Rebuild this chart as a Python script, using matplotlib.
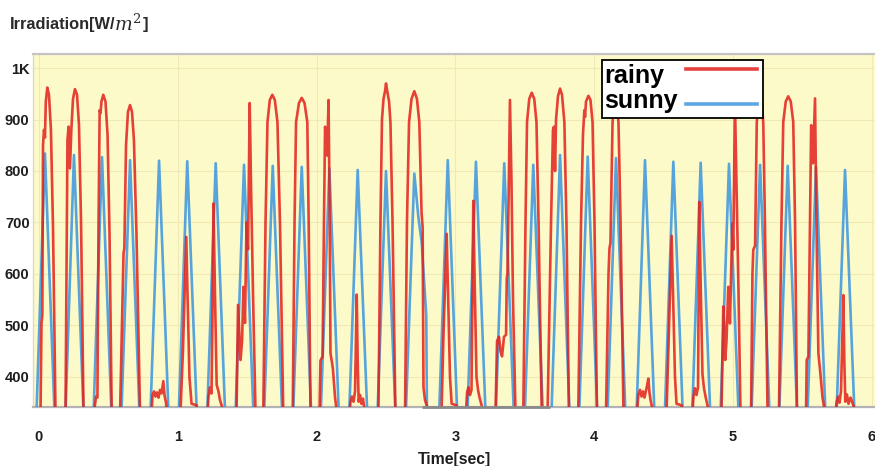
import matplotlib
matplotlib.use("Agg")
import matplotlib.pyplot as plt
from matplotlib import font_manager
from matplotlib.lines import Line2D
from matplotlib.patches import Rectangle
from matplotlib.transforms import blended_transform_factory, offset_copy

# ---------------------------------------------------------------- data
x_ticks = [0, 1, 2, 3, 4, 5, 6]
x_tick_labels = ["0", "1", "2", "3", "4", "5", "6"]
y_ticks = [400, 500, 600, 700, 800, 900, 1000]
y_tick_labels = ["400", "500", "600", "700", "800", "900", "1K"]

series_names = ["rainy", "sunny"]

# sunny profile: time [s] / irradiance [W/m^2] vertices
sunny_t = [
    -0.018, 0.043, 0.112,
    0.191, 0.252, 0.321,
    0.393, 0.454, 0.522,
    0.594, 0.656, 0.724,
    0.803, 0.865, 0.933,
    1.007, 1.068, 1.137,
    1.212, 1.273, 1.341,
    1.416, 1.477, 1.545,
    1.622, 1.684, 1.752,
    1.831, 1.893, 1.961,
    2.030, 2.092, 2.160,
    2.235, 2.296, 2.365,
    2.439, 2.500, 2.568,
    2.643, 2.704, 2.733, 2.757, 2.790, 2.795,
    2.883, 2.945, 3.013,
    3.087, 3.148, 3.217,
    3.291, 3.352, 3.421,
    3.500, 3.561, 3.630,
    3.692, 3.754, 3.822,
    3.892, 3.953, 4.022,
    4.096, 4.157, 4.225,
    4.305, 4.366, 4.434,
    4.509, 4.570, 4.638,
    4.706, 4.767, 4.836,
    4.910, 4.971, 5.040,
    5.133, 5.195, 5.263,
    5.333, 5.394, 5.462,
    5.537, 5.598, 5.666,
    5.746, 5.807, 5.875,
]
sunny_w = [
    330, 834, 330,
    330, 831, 330,
    330, 827, 330,
    330, 821, 330,
    330, 820, 330,
    330, 819, 330,
    330, 815, 330,
    330, 812, 330,
    330, 810, 330,
    330, 808, 330,
    330, 805, 330,
    330, 802, 330,
    330, 800, 330,
    330, 795, 711, 661, 520, 330,
    330, 821, 330,
    330, 818, 330,
    330, 815, 330,
    330, 812, 330,
    330, 831, 330,
    330, 828, 330,
    330, 825, 330,
    330, 821, 330,
    330, 818, 330,
    330, 816, 330,
    330, 814, 330,
    330, 812, 330,
    330, 810, 330,
    330, 807, 330,
    330, 802, 330,
]

# rainy profile: time [s] / irradiance [W/m^2] vertices
rainy_t = [
    0.011, 0.018, 0.024, 0.029, 0.036, 0.043, 0.049, 0.060, 0.072, 0.086, 0.101, 0.119,
    0.191, 0.205, 0.213, 0.223, 0.233, 0.245, 0.259, 0.274, 0.288, 0.303, 0.321,
    0.396, 0.403, 0.411, 0.421, 0.429, 0.437, 0.443, 0.450, 0.463, 0.479, 0.494, 0.508, 0.524,
    0.584, 0.609, 0.615, 0.627, 0.641, 0.656, 0.670, 0.684, 0.702, 0.728,
    0.811, 0.818, 0.829, 0.839, 0.850, 0.861, 0.872, 0.883, 0.896, 0.904, 0.915, 0.922,
    1.019, 1.037, 1.061, 1.070, 1.084, 1.099, 1.135, 1.142,
    1.214, 1.221, 1.232, 1.243, 1.249, 1.257, 1.268, 1.280, 1.293, 1.304, 1.316, 1.326,
    1.423, 1.434, 1.441, 1.452, 1.463, 1.473, 1.484, 1.495, 1.506, 1.518, 1.527, 1.542, 1.560,
    1.616, 1.632, 1.646, 1.663, 1.681, 1.699, 1.718, 1.736, 1.760,
    1.828, 1.841, 1.852, 1.873, 1.893, 1.913, 1.933, 1.943, 1.956,
    2.021, 2.028, 2.043, 2.053, 2.061, 2.071, 2.076, 2.086, 2.094, 2.100, 2.111, 2.118, 2.133, 2.147,
    2.237, 2.244, 2.255, 2.266, 2.277, 2.289, 2.296, 2.303, 2.313, 2.323, 2.334, 2.349,
    2.445, 2.460, 2.471, 2.482, 2.493, 2.500, 2.509, 2.522, 2.532, 2.547, 2.568,
    2.637, 2.651, 2.666, 2.684, 2.704, 2.723, 2.740, 2.756, 2.764, 2.770, 2.781, 2.793, 2.803,
    2.900, 2.914, 2.937, 2.947, 2.961, 2.973, 3.008, 3.015,
    3.076, 3.084, 3.094, 3.105, 3.116, 3.129, 3.139, 3.152, 3.163, 3.174, 3.189, 3.199,
    3.289, 3.300, 3.314, 3.325, 3.336, 3.350, 3.365, 3.370, 3.375, 3.381, 3.393, 3.404, 3.415, 3.433,
    3.489, 3.505, 3.516, 3.532, 3.550, 3.568, 3.584, 3.599, 3.622,
    3.664, 3.689, 3.703, 3.710, 3.718, 3.725, 3.739, 3.754, 3.768, 3.785, 3.800, 3.818,
    3.885, 3.905, 3.919, 3.929, 3.934, 3.941, 3.958, 3.973, 3.988, 4.002, 4.020,
    4.085, 4.103, 4.110, 4.117, 4.132, 4.143, 4.154, 4.164, 4.175, 4.190, 4.211,
    4.308, 4.318, 4.330, 4.341, 4.352, 4.362, 4.377, 4.390, 4.398, 4.406, 4.414, 4.420,
    4.521, 4.535, 4.558, 4.568, 4.582, 4.593, 4.629, 4.636,
    4.708, 4.715, 4.726, 4.737, 4.748, 4.757, 4.767, 4.780, 4.791, 4.802, 4.816, 4.827,
    4.917, 4.930, 4.937, 4.944, 4.953, 4.966, 4.978, 4.995, 5.002, 5.014, 5.025, 5.040, 5.054,
    5.130, 5.140, 5.146, 5.159, 5.171, 5.182, 5.195, 5.207, 5.218, 5.230, 5.249,
    5.331, 5.349, 5.362, 5.380, 5.398, 5.416, 5.434, 5.447, 5.461,
    5.526, 5.531, 5.543, 5.555, 5.563, 5.571, 5.576, 5.591, 5.600, 5.615, 5.622, 5.627, 5.645, 5.663,
    5.738, 5.747, 5.757, 5.767, 5.778, 5.795, 5.802, 5.809, 5.821, 5.832, 5.847, 5.867, 5.875,
]
rainy_w = [
    330, 505, 520, 850, 880, 865, 935, 962, 948, 880, 690, 330,
    330, 860, 886, 805, 880, 940, 959, 948, 890, 700, 330,
    330, 345, 362, 360, 700, 918, 912, 935, 948, 935, 870, 680, 330,
    330, 640, 650, 850, 915, 928, 915, 860, 680, 330,
    330, 365, 372, 362, 370, 360, 375, 368, 392, 365, 350, 330,
    330, 450, 672, 560, 400, 348, 345, 330,
    330, 362, 380, 368, 500, 737, 560, 385, 372, 355, 345, 330,
    330, 540, 500, 433, 470, 575, 505, 700, 648, 932, 780, 560, 330,
    330, 700, 895, 938, 948, 938, 895, 700, 330,
    330, 700, 895, 932, 942, 932, 895, 700, 330,
    330, 432, 440, 700, 886, 860, 830, 938, 720, 446, 428, 414, 360, 330,
    330, 352, 362, 352, 372, 560, 430, 352, 365, 348, 358, 330,
    330, 700, 900, 940, 955, 970, 955, 935, 895, 700, 330,
    330, 700, 895, 940, 955, 940, 895, 720, 690, 380, 355, 345, 330,
    330, 480, 678, 560, 400, 348, 345, 330,
    330, 370, 380, 365, 375, 742, 580, 400, 375, 360, 345, 330,
    330, 470, 478, 450, 440, 478, 482, 592, 600, 705, 938, 780, 550, 330,
    330, 700, 895, 940, 952, 940, 895, 700, 330,
    330, 700, 880, 886, 800, 900, 945, 960, 948, 895, 700, 330,
    330, 700, 870, 918, 905, 935, 946, 938, 895, 700, 330,
    330, 600, 650, 660, 893, 935, 948, 935, 893, 700, 330,
    330, 365, 375, 362, 372, 360, 378, 397, 370, 355, 345, 330,
    330, 460, 674, 560, 400, 348, 345, 330,
    330, 362, 378, 365, 380, 740, 580, 405, 378, 362, 345, 330,
    330, 537, 500, 433, 470, 575, 504, 698, 647, 935, 780, 560, 330,
    330, 600, 647, 655, 893, 935, 948, 935, 893, 700, 330,
    330, 700, 895, 935, 945, 935, 895, 700, 330,
    330, 433, 440, 700, 889, 860, 815, 941, 720, 446, 428, 414, 360, 330,
    330, 352, 362, 350, 372, 559, 430, 352, 366, 348, 360, 345, 330,
]

# highlighted stretch of the time axis
highlight_span = (2.76, 3.68)

# ---------------------------------------------------------------- style
RED = "#e3201b"
BLUE = "#3f98de"
BG = "#fdfac9"

available = {f.name for f in font_manager.fontManager.ttflist}
if "Liberation Sans Narrow" in available:
    FONT, SCALE = "Liberation Sans Narrow", 1.0
else:
    FONT, SCALE = "Liberation Sans", 0.84
plt.rcParams["font.family"] = [FONT, "DejaVu Sans"]
plt.rcParams["mathtext.fontset"] = "dejavuserif"

fig = plt.figure(figsize=(8.75, 4.66), dpi=100)
ax = fig.add_axes([33 / 875, 59 / 466, 852 / 875, 353 / 466])
ax.set_facecolor(BG)

ax.plot(sunny_t, sunny_w, color=BLUE, lw=1.9, alpha=0.88, zorder=3,
        solid_joinstyle="round")
ax.plot(rainy_t, rainy_w, color=RED, lw=1.9, alpha=0.85, zorder=4,
        solid_joinstyle="round")

ax.set_xlim(-0.0432, 6.095)
ax.set_ylim(341.7, 1027.2)

ax.set_xticks(x_ticks)
ax.set_xticklabels(x_tick_labels)
ax.set_yticks(y_ticks)
ax.set_yticklabels(y_tick_labels)
ax.tick_params(axis="both", length=0, colors="#1e1e1e")
ax.tick_params(axis="x", pad=16.5)
ax.tick_params(axis="y", pad=2.5)
for lbl in ax.get_xticklabels() + ax.get_yticklabels():
    lbl.set_fontweight("bold")
    lbl.set_fontsize(12.5 * SCALE)

ax.grid(True, color="#efe9b6", lw=0.8)
ax.set_axisbelow(True)

ax.spines["right"].set_visible(False)
ax.spines["top"].set_color("#c4c4c4")
ax.spines["top"].set_linewidth(1.6)
ax.spines["left"].set_color("#dcdac4")
ax.spines["left"].set_linewidth(1.0)
ax.spines["bottom"].set_color("#b4b4b4")
ax.spines["bottom"].set_linewidth(1.6)

blend = blended_transform_factory(ax.transData, ax.transAxes)
ax.plot(highlight_span, [0, 0], transform=blend, color="#8a8a8a", lw=2.0,
        clip_on=False, zorder=6, solid_capstyle="butt")

# legend box: label first, sample line after it
ax.add_patch(Rectangle((0.6678, 0.8187), 0.189, 0.1643, transform=ax.transAxes,
                       facecolor="white", edgecolor="black", lw=1.3,
                       zorder=10, clip_on=False))
legend_colors = [RED, BLUE]
legend_rows_y = [0.918, 0.848]
legend_lines_y = [0.9567, 0.8584]
for name, col, ty, ly in zip(series_names, legend_colors, legend_rows_y, legend_lines_y):
    ax.text(0.6705, ty, name, transform=ax.transAxes, fontsize=21.5 * SCALE,
            fontweight="bold", color="black", va="baseline", ha="left", zorder=11)
    ax.add_line(Line2D([0.766, 0.850], [ly, ly], transform=ax.transAxes,
                       color=col, lw=2.6, alpha=0.85, zorder=11, clip_on=False))

# y-axis caption: plain part, then a larger italic unit, then the bracket
renderer = fig.canvas.get_renderer()
cap_y = 1 - 28.5 / 466
t1 = fig.text(10 / 875, cap_y, "Irradiation[W/", fontsize=14 * SCALE,
              fontweight="bold", color="#2a2a2a", va="baseline", ha="left")
w1 = t1.get_window_extent(renderer).width
t2 = fig.text(10 / 875, cap_y, r"$m^2$", fontsize=13.5,
              color="#2a2a2a", va="baseline", ha="left",
              transform=offset_copy(fig.transFigure, fig=fig, x=w1 - 1, y=-2.5, units="dots"))
w2 = t2.get_window_extent(renderer).width
fig.text(10 / 875, cap_y, "]", fontsize=14 * SCALE,
         fontweight="bold", color="#2a2a2a", va="baseline", ha="left",
         transform=offset_copy(fig.transFigure, fig=fig, x=w1 + w2, y=0, units="dots"))

fig.text(455 / 875, 1 - 464 / 466, "Time[sec]", fontsize=13.5 * SCALE,
         fontweight="bold", color="#1e1e1e", va="baseline", ha="center")

fig.savefig("out.png", dpi=100, facecolor="white")
